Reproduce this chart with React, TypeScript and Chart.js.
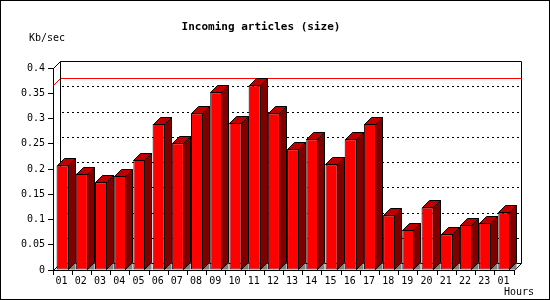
import React, { useEffect, useRef } from "react";
import { Chart, registerables } from "chart.js";

Chart.register(...registerables);

const hours: string[] = ["01","02","03","04","05","06","07","08","09","10","11","12","13","14","15","16","17","18","19","20","21","22","23","01"];
const kbPerSec: number[] = [0.207,0.191,0.174,0.186,0.218,0.289,0.251,0.310,0.352,0.292,0.366,0.310,0.239,0.259,0.209,0.259,0.289,0.108,0.079,0.124,0.071,0.089,0.094,0.114];
const yTickValues: number[] = [0,0.05,0.1,0.15,0.2,0.25,0.3,0.35,0.4];
const yTickLabels: string[] = ["0","0.05","0.1","0.15","0.2","0.25","0.3","0.35","0.4"];
const titleText = "Incoming articles (size)";
const yUnitText = "Kb/sec";
const xUnitText = "Hours";

const D = 7;
const MONO = '"DejaVu Sans Mono", monospace';

const threeD = {
  id: "threeD",
  beforeDatasetsDraw(chart: any) {
    const { ctx, chartArea, scales } = chart;
    const y = scales.y;
    const x0 = chartArea.left, x1 = chartArea.right;
    const yTop = Math.round(y.getPixelForValue(yTickValues[yTickValues.length - 1]));
    const yBot = Math.round(y.getPixelForValue(0));
    ctx.save();
    ctx.lineWidth = 1;
    ctx.strokeStyle = "#000";
    ctx.setLineDash([2, 3]);
    for (const v of yTickValues) {
      if (v === 0 || v === yTickValues[yTickValues.length - 1]) continue;
      const py = Math.round(y.getPixelForValue(v)) - D + 0.5;
      ctx.beginPath();
      ctx.moveTo(x0 + D + 2, py);
      ctx.lineTo(x1 + D, py);
      ctx.stroke();
    }
    ctx.setLineDash([]);
    const mx = Math.max(...kbPerSec);
    const my = Math.round(y.getPixelForValue(mx));
    ctx.strokeStyle = "#ff0000";
    ctx.beginPath();
    ctx.moveTo(x0 + 0.5, my + 0.5);
    ctx.lineTo(x0 + D + 0.5, my - D + 0.5);
    ctx.lineTo(x1 + D + 0.5, my - D + 0.5);
    ctx.stroke();
    ctx.strokeStyle = "#000";
    ctx.beginPath();
    ctx.moveTo(x0 + 0.5, yTop + 0.5);
    ctx.lineTo(x0 + D + 0.5, yTop - D + 0.5);
    ctx.lineTo(x1 + D + 0.5, yTop - D + 0.5);
    ctx.lineTo(x1 + D + 0.5, yBot - D + 0.5);
    ctx.lineTo(x1 + 0.5, yBot + 0.5);
    ctx.moveTo(x0 + D + 0.5, yTop - D + 0.5);
    ctx.lineTo(x0 + D + 0.5, yBot - D + 0.5);
    ctx.lineTo(x1 + D + 0.5, yBot - D + 0.5);
    ctx.moveTo(x0 + 0.5, yBot + 0.5);
    ctx.lineTo(x0 + D + 0.5, yBot - D + 0.5);
    ctx.stroke();
    ctx.restore();
  },
  afterDatasetsDraw(chart: any) {
    const { ctx } = chart;
    const meta = chart.getDatasetMeta(0);
    ctx.save();
    ctx.lineWidth = 1;
    ctx.strokeStyle = "#000";
    for (const bar of meta.data) {
      const p = bar.getProps(["x", "y", "base", "width"], true);
      const l = Math.round(p.x - p.width / 2) + 0.5;
      const r = Math.round(p.x + p.width / 2) - 0.5;
      const t = Math.round(p.y) + 0.5;
      const b = Math.round(p.base) - 0.5;
      ctx.fillStyle = "#808080";
      ctx.beginPath();
      ctx.moveTo(r, b);
      ctx.lineTo(r + D, b - D);
      ctx.lineTo(r + D, b);
      ctx.closePath();
      ctx.fill();
      ctx.fillStyle = "#c00000";
      ctx.beginPath();
      ctx.moveTo(l, t);
      ctx.lineTo(l + D, t - D);
      ctx.lineTo(r + D, t - D);
      ctx.lineTo(r, t);
      ctx.closePath();
      ctx.fill();
      ctx.stroke();
      ctx.fillStyle = "#800000";
      ctx.beginPath();
      ctx.moveTo(r, t);
      ctx.lineTo(r + D, t - D);
      ctx.lineTo(r + D, b - D);
      ctx.lineTo(r, b);
      ctx.closePath();
      ctx.fill();
      ctx.stroke();
    }
    ctx.restore();
  },
  afterDraw(chart: any) {
    const { ctx, width, height } = chart;
    ctx.save();
    ctx.fillStyle = "#000";
    ctx.textBaseline = "middle";
    ctx.font = `bold 11px ${MONO}`;
    ctx.textAlign = "center";
    ctx.fillText(titleText, 261, 27);
    ctx.font = `10px ${MONO}`;
    ctx.textAlign = "left";
    ctx.fillText(yUnitText, 29, 38);
    ctx.fillText(xUnitText, 504, 292);
    ctx.strokeStyle = "#000";
    ctx.lineWidth = 1;
    ctx.strokeRect(0.5, 0.5, width - 1, height - 1);
    ctx.restore();
  },
};

export default function App() {
  const ref = useRef<HTMLCanvasElement | null>(null);
  useEffect(() => {
    if (!ref.current) return;
    const chart = new Chart(ref.current, {
      type: "bar",
      data: {
        labels: hours,
        datasets: [
          {
            data: kbPerSec,
            backgroundColor: "#ff0000",
            borderColor: "#000000",
            borderWidth: 1,
            borderSkipped: false,
            categoryPercentage: 1,
            barPercentage: 0.63,
          },
        ],
      },
      options: {
        animation: false,
        responsive: false,
        devicePixelRatio: 1,
        layout: { padding: { left: 0, top: 68, right: 36, bottom: 0 } },
        plugins: { legend: { display: false }, tooltip: { enabled: false }, title: { display: false } },
        scales: {
          x: {
            afterFit: (s: any) => { s.height = 30; },
            grid: { drawOnChartArea: false, tickLength: 5, color: "#000", offset: true },
            border: { color: "#000", width: 1 },
            ticks: { color: "#000", font: { family: MONO, size: 10 }, padding: 0, maxRotation: 0, autoSkip: false, labelOffset: -1 },
          },
          y: {
            min: 0,
            max: 0.4,
            afterFit: (s: any) => { s.width = 53; },
            afterBuildTicks: (s: any) => { s.ticks = yTickValues.map((v) => ({ value: v })); },
            grid: { drawOnChartArea: false, tickLength: 5, color: "#000" },
            border: { color: "#000", width: 1 },
            ticks: {
              color: "#000",
              font: { family: MONO, size: 10 },
              padding: 3,
              callback: (_v: any, i: number) => yTickLabels[i],
            },
          },
        },
      },
      plugins: [threeD],
    });
    return () => chart.destroy();
  }, []);
  return (
    <div style={{ position: "absolute", left: 0, top: 0, width: 550, height: 300, background: "#fff" }}>
      <canvas ref={ref} width={550} height={300} />
    </div>
  );
}
